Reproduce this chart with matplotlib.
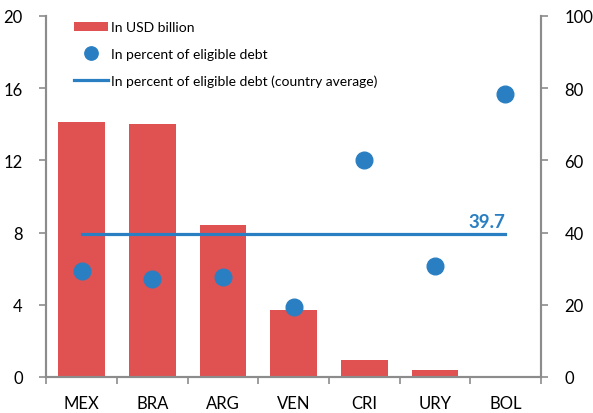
import numpy as np
import matplotlib
matplotlib.use("Agg")
import matplotlib.pyplot as plt

plt.rcParams['font.family'] = ['Lato', 'DejaVu Sans']

countries = ['MEX', 'BRA', 'ARG', 'VEN', 'CRI', 'URY', 'BOL']
usd_bn = [14.13, 14.0, 8.42, 3.72, 0.94, 0.40, 0.06]
pct_eligible = [29.4, 27.2, 27.8, 19.3, 60.1, 30.8, 78.5]
avg_pct = 39.7

red = '#E05252'
blue = '#2A7FC2'
grey = '#8C8C8C'

fig = plt.figure(figsize=(5.93, 4.14), dpi=100)
ax = fig.add_axes([0.078, 0.087, 0.834, 0.872])
ax2 = ax.twinx()

x = np.arange(len(countries))
ax.bar(x, usd_bn, width=0.66, color=red, label='In USD billion', zorder=2)
ax2.plot(x, pct_eligible, 'o', color=blue, markersize=12, label='In percent of eligible debt', zorder=3)
ax2.plot([x[0], x[-1]], [avg_pct, avg_pct], color=blue, lw=2.3,
         label='In percent of eligible debt (country average)', zorder=3)
ax2.text(x[-1], avg_pct + 1.0, '39.7', color=blue, fontsize=13.5, fontweight='bold',
         ha='right', va='bottom')

ax.set_xlim(-0.5, len(countries) - 0.5)
ax.set_ylim(0, 20)
ax2.set_ylim(0, 100)
ax.set_yticks(range(0, 21, 4))
ax2.set_yticks(range(0, 101, 20))

ax.set_xticks(x)
ax.set_xticklabels(countries)
ax.set_xticks(np.arange(-0.5, len(countries)), minor=True)
ax.tick_params(axis='x', which='major', length=0, pad=13, labelsize=12)
ax.tick_params(axis='x', which='minor', length=5, color=grey, width=1.2)
ax.tick_params(axis='y', length=5, color=grey, width=1.2, labelsize=12, pad=12)
ax2.tick_params(axis='y', length=5, color=grey, width=1.2, labelsize=12, pad=12)

for a in (ax, ax2):
    a.spines['top'].set_visible(False)
    for s in ('left', 'right', 'bottom'):
        a.spines[s].set_color(grey)
        a.spines[s].set_linewidth(1.5)

h1, l1 = ax.get_legend_handles_labels()
h2, l2 = ax2.get_legend_handles_labels()
leg = ax2.legend(h1 + h2, l1 + l2, loc='upper left', bbox_to_anchor=(0.03, 1.02),
                 frameon=False, fontsize=10, handlelength=2.5, handletextpad=0.2,
                 labelspacing=1.05, markerscale=0.8)

fig.savefig('out.png', dpi=100)
